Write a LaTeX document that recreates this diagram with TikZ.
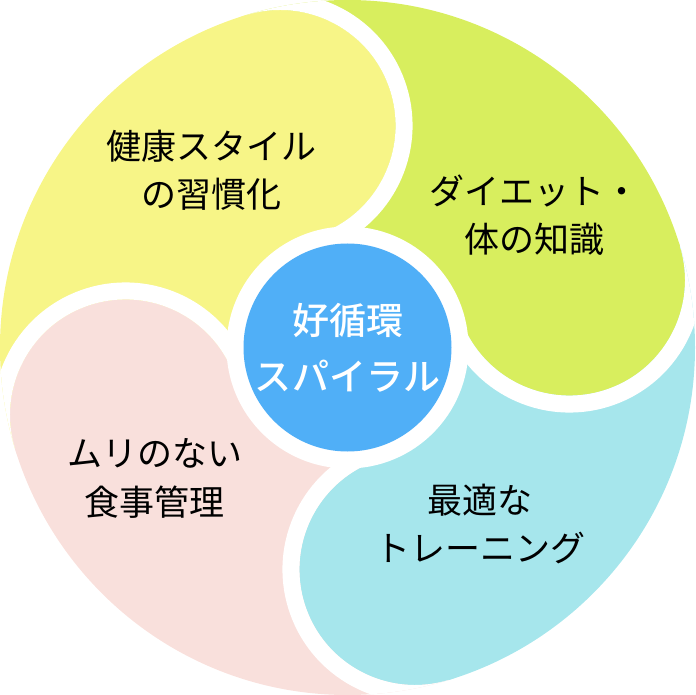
\documentclass[tikz,border=0pt]{standalone}
\usepackage{fontspec}
\setmainfont{Noto Sans CJK JP}
\newfontfamily\hubfont{Noto Sans CJK JP Medium}

\definecolor{petalyellow}{HTML}{F7F587}
\definecolor{petalgreen}{HTML}{D8EE5E}
\definecolor{petalcyan}{HTML}{A6E6EC}
\definecolor{petalpink}{HTML}{F9E0DC}
\definecolor{hubblue}{HTML}{50AFF7}

\tikzset{
petaltext/.style={align=center, text=black, font=\fontsize{35}{48.5}\selectfont},
hubtext/.style={circle, fill=hubblue, minimum size=208pt, inner sep=0pt, align=center, text=white, font=\hubfont\fontsize{37}{56}\selectfont}
}

\begin{document}
\begin{tikzpicture}[x=1pt,y=1pt]

\useasboundingbox (-347.5,-347.5) rectangle (347.5,347.5);

%%%%%%%%%%%%%%%%%%%%%%%%%%%%%%%%%%%%%%%%%%%%%%%%%%%%%%
% PETALS
%%%%%%%%%%%%%%%%%%%%%%%%%%%%%%%%%%%%%%%%%%%%%%%%%%%%%%

\begin{scope}
\clip (0,0) circle (347.5);

\foreach \a/\col in {106.9/petalyellow, 16.9/petalgreen, -73.1/petalcyan, 196.9/petalpink}
{
\fill[\col] (0,0) -- (\a:500) -- (\a+45:500) -- (\a+90:500) -- cycle;
}

\foreach \a/\col in {106.9/petalyellow, 16.9/petalgreen, -73.1/petalcyan, 196.9/petalpink}
{
\fill[\col] (\a:232) circle (115.5);
\draw[white, line width=17pt] (\a:232) ++(\a:124) arc[start angle=\a, end angle=\a-176, radius=124];
}

\fill[white] (0,0) circle (121);
\end{scope}

%%%%%%%%%%%%%%%%%%%%%%%%%%%%%%%%%%%%%%%%%%%%%%%%%%%%%%
% HUB
%%%%%%%%%%%%%%%%%%%%%%%%%%%%%%%%%%%%%%%%%%%%%%%%%%%%%%

\node[hubtext](hub) at (0,0) {好循環\\スパイラル};

%%%%%%%%%%%%%%%%%%%%%%%%%%%%%%%%%%%%%%%%%%%%%%%%%%%%%%
% LABELS
%%%%%%%%%%%%%%%%%%%%%%%%%%%%%%%%%%%%%%%%%%%%%%%%%%%%%%

\node[petaltext](habit) at (-135.5,177) {健康スタイル\\の習慣化};

\node[petaltext](diet) at (187,132.5) {ダイエット・\\体の知識};

\node[petaltext](meal) at (-192.5,-131) {ムリのない\\食事管理};

\node[petaltext](training) at (132.5,-176.5) {最適な\\トレーニング};

\end{tikzpicture}
\end{document}
